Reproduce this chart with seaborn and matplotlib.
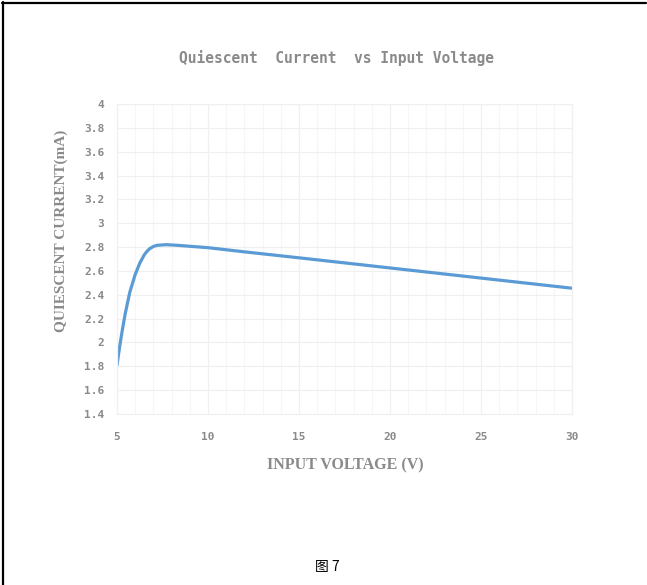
import numpy as np
import pandas as pd
import matplotlib
matplotlib.use("Agg")
import matplotlib.pyplot as plt
from matplotlib.lines import Line2D
from matplotlib.ticker import MultipleLocator
import seaborn as sns

# values
voltage = [5, 5.15, 5.3, 5.45, 5.7, 6, 6.25, 6.5, 6.65, 6.8, 7.0, 7.2, 7.7, 8.3, 10, 12, 15, 20, 25, 30]
current = [1.81, 1.97, 2.11, 2.24, 2.42, 2.57, 2.665, 2.735, 2.765, 2.787, 2.805, 2.815, 2.82, 2.815,
           2.795, 2.76, 2.71, 2.625, 2.54, 2.455]

x_ticks = [5, 10, 15, 20, 25, 30]
y_ticks = [1.4, 1.6, 1.8, 2, 2.2, 2.4, 2.6, 2.8, 3, 3.2, 3.4, 3.6, 3.8, 4]

df = pd.DataFrame({"v": voltage, "i": current})

sns.set_style("white")
gray = "#8a8a8a"

fig = plt.figure(figsize=(6.47, 5.85), dpi=100)
ax = fig.add_axes([117 / 647, 1 - 414 / 585, (572 - 117) / 647, (414 - 104) / 585])

sns.lineplot(data=df, x="v", y="i", ax=ax, color="#5b9bd5", linewidth=2.3)
ax.lines[0].set_solid_joinstyle("round")

ax.set_xlim(5, 30)
ax.set_ylim(1.4, 4)
ax.set_xticks(x_ticks)
ax.set_yticks(y_ticks)
ax.set_xticklabels([str(t) for t in x_ticks])
ax.set_yticklabels(["%g" % t for t in y_ticks])
ax.xaxis.set_minor_locator(MultipleLocator(1))
ax.grid(True, which="major", color="#f0f0f0", linewidth=0.9)
ax.grid(True, which="minor", axis="x", color="#f6f6f6", linewidth=0.8)
ax.set_axisbelow(True)
for s in ax.spines.values():
    s.set_color("#f0f0f0")
    s.set_linewidth(0.9)
ax.tick_params(length=0, which="both", labelcolor=gray)
ax.tick_params(axis="x", pad=13)
ax.tick_params(axis="y", pad=9)
for lab in ax.get_xticklabels() + ax.get_yticklabels():
    lab.set_family("DejaVu Sans Mono")
    lab.set_fontweight("bold")
    lab.set_fontsize(8)
ax.set_xlabel("")
ax.set_ylabel("")

fig.text(337 / 647, 1 - 58 / 585, "Quiescent  Current  vs Input Voltage", ha="center", va="center",
         family="DejaVu Sans Mono", fontweight="bold", fontsize=10.5, color=gray)
fig.text(345 / 647, 1 - 465 / 585, "INPUT VOLTAGE (V)", ha="center", va="center",
         family="Liberation Serif", fontweight="bold", fontsize=11.5, color=gray)
fig.text(61 / 647, 1 - 231 / 585, "QUIESCENT CURRENT(mA)", ha="center", va="center", rotation=90,
         family="Liberation Serif", fontweight="bold", fontsize=11, color=gray)
fig.text(327 / 647, 1 - 567 / 585, "图 7", ha="center", va="center",
         family=["Noto Sans CJK SC", "DejaVu Sans"], fontsize=10, color="black")

# frame lines at top and left of the image
fig.add_artist(Line2D([2 / 647, 646 / 647], [1 - 2.5 / 585, 1 - 2.5 / 585], color="black", linewidth=1.6,
                      transform=fig.transFigure))
fig.add_artist(Line2D([2.5 / 647, 2.5 / 647], [0, 1 - 2 / 585], color="black", linewidth=1.6,
                      transform=fig.transFigure))

fig.savefig("out.png", dpi=100)
